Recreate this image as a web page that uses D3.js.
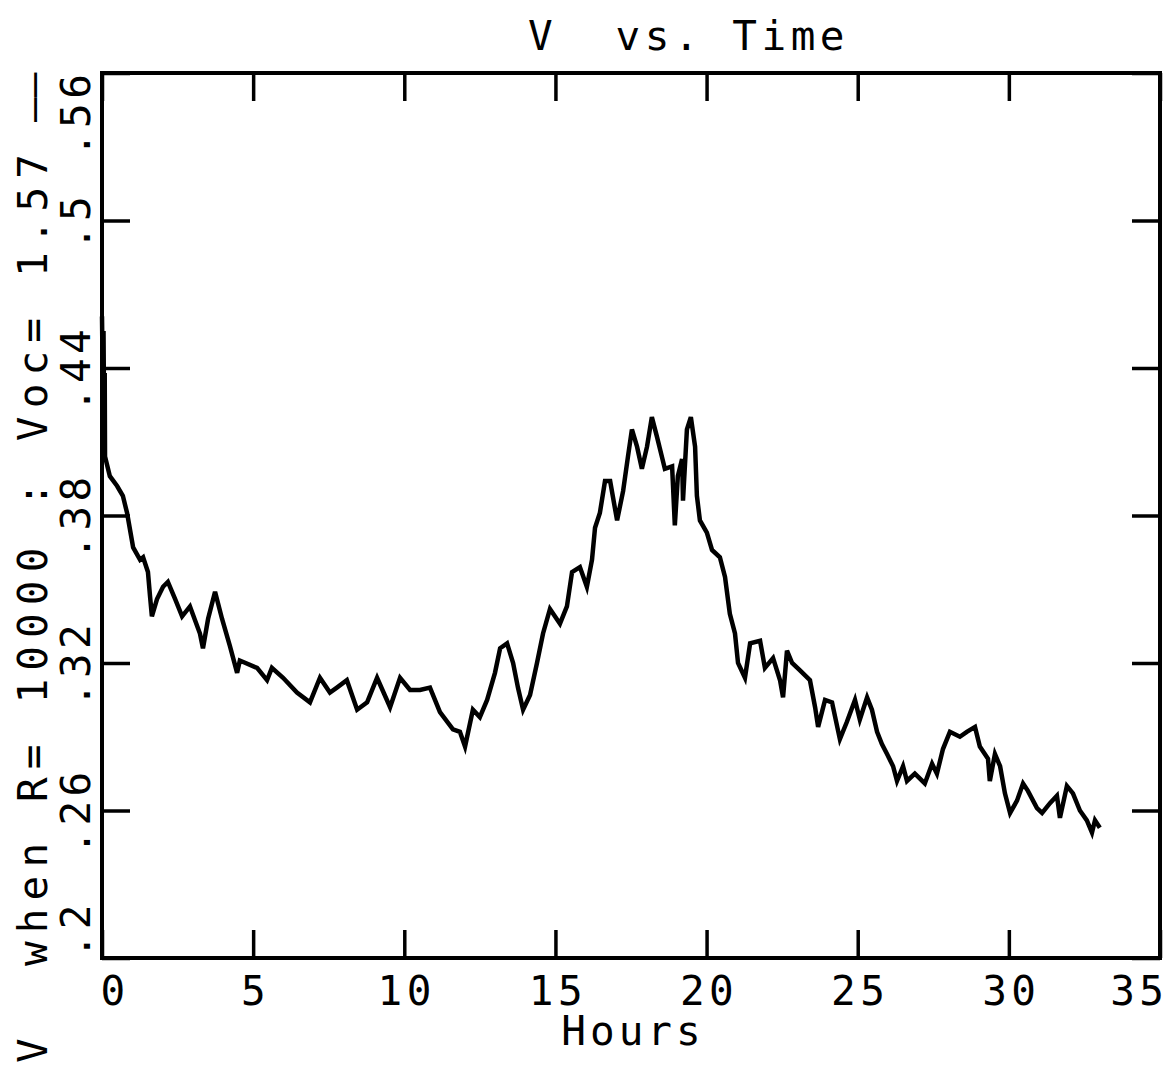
<!DOCTYPE html>
<html>
<head>
<meta charset="utf-8">
<script src="https://cdn.jsdelivr.net/npm/d3@7"></script>
<style>
  html, body { margin: 0; padding: 0; background: #fff; }
  svg { display: block; }
  text { font-family: "DejaVu Sans Mono", "Liberation Mono", monospace; fill: #000; }
</style>
</head>
<body>
<div id="chart"></div>
<script>
// values
const hours = [0.00, 0.03, 0.05, 0.07, 0.09, 0.10, 0.26, 0.50, 0.69, 0.83,
  1.03, 1.26, 1.36, 1.52, 1.59, 1.65, 1.82, 2.02, 2.18, 2.42,
  2.65, 2.91, 3.24, 3.34, 3.51, 3.74, 3.97, 4.23, 4.47, 4.56,
  5.13, 5.46, 5.62, 5.99, 6.45, 6.88, 7.21, 7.54, 7.77, 8.10,
  8.44, 8.77, 9.10, 9.53, 9.86, 10.19, 10.52, 10.85, 11.18, 11.61,
  11.84, 12.01, 12.27, 12.50, 12.74, 13.00, 13.17, 13.40, 13.60, 13.76,
  13.93, 14.16, 14.39, 14.59, 14.82, 15.15, 15.38, 15.55, 15.81, 16.04,
  16.21, 16.31, 16.47, 16.64, 16.81, 17.04, 17.24, 17.40, 17.53, 17.70,
  17.86, 18.03, 18.19, 18.36, 18.52, 18.62, 18.86, 18.95, 19.05, 19.19,
  19.22, 19.35, 19.48, 19.62, 19.68, 19.78, 20.01, 20.18, 20.44, 20.61,
  20.77, 20.94, 21.04, 21.27, 21.44, 21.77, 21.93, 22.20, 22.43, 22.53,
  22.66, 22.83, 23.09, 23.42, 23.59, 23.69, 23.92, 24.15, 24.41, 24.64,
  24.91, 25.07, 25.31, 25.47, 25.64, 25.80, 25.97, 26.17, 26.30, 26.50,
  26.63, 26.89, 27.22, 27.46, 27.62, 27.82, 28.05, 28.38, 28.61, 28.88,
  29.04, 29.31, 29.37, 29.54, 29.71, 29.87, 30.04, 30.27, 30.47, 30.63,
  30.93, 31.10, 31.36, 31.59, 31.69, 31.92, 32.12, 32.35, 32.58, 32.75,
  32.85, 33.01];
const volts = [0.461, 0.430, 0.455, 0.420, 0.438, 0.404, 0.396, 0.392, 0.388, 0.381,
  0.367, 0.362, 0.363, 0.357, 0.347, 0.339, 0.346, 0.351, 0.353, 0.346,
  0.339, 0.343, 0.332, 0.326, 0.338, 0.349, 0.338, 0.327, 0.316, 0.321,
  0.318, 0.313, 0.318, 0.314, 0.308, 0.304, 0.314, 0.308, 0.310, 0.313,
  0.301, 0.304, 0.314, 0.302, 0.314, 0.309, 0.309, 0.310, 0.300, 0.293,
  0.292, 0.286, 0.301, 0.298, 0.305, 0.316, 0.326, 0.328, 0.320, 0.310,
  0.301, 0.307, 0.320, 0.332, 0.342, 0.336, 0.343, 0.357, 0.359, 0.351,
  0.362, 0.375, 0.381, 0.394, 0.394, 0.378, 0.390, 0.404, 0.415, 0.408,
  0.399, 0.408, 0.420, 0.412, 0.404, 0.399, 0.400, 0.376, 0.396, 0.403,
  0.386, 0.415, 0.420, 0.408, 0.388, 0.378, 0.373, 0.366, 0.363, 0.355,
  0.340, 0.332, 0.320, 0.314, 0.328, 0.329, 0.318, 0.322, 0.313, 0.306,
  0.325, 0.320, 0.317, 0.313, 0.302, 0.294, 0.305, 0.304, 0.289, 0.296,
  0.305, 0.297, 0.306, 0.301, 0.292, 0.287, 0.283, 0.278, 0.272, 0.278,
  0.272, 0.275, 0.271, 0.279, 0.275, 0.285, 0.292, 0.290, 0.292, 0.294,
  0.286, 0.281, 0.272, 0.283, 0.278, 0.267, 0.259, 0.264, 0.271, 0.268,
  0.261, 0.259, 0.263, 0.266, 0.257, 0.270, 0.267, 0.260, 0.256, 0.251,
  0.256, 0.253];

const xTicks = [0, 5, 10, 15, 20, 25, 30, 35];
const xTickLabels = ["0", "5", "10", "15", "20", "25", "30", "35"];
const yTicks = [0.2, 0.26, 0.32, 0.38, 0.44, 0.5, 0.56];
const yTickLabels = [".2", ".26", ".32", ".38", ".44", ".5", ".56"];

const title = "V  vs. Time";
const xTitle = "Hours";
const yTitle = "when R= 10000 : Voc= 1.57";
const yUnit = "V";

const W = 1172, H = 1071;
const margin = { top: 73, right: 12, bottom: 113, left: 102 };
const width = W - margin.left - margin.right;
const height = H - margin.top - margin.bottom;
const fontSize = 41;
const tickLen = 28;

const svg = d3.select("#chart").append("svg")
    .attr("width", W)
    .attr("height", H);

svg.append("rect").attr("width", W).attr("height", H).attr("fill", "#fff");

const g = svg.append("g")
    .attr("transform", `translate(${margin.left},${margin.top})`);

const x = d3.scaleLinear().domain([0, 35]).range([0, width]);
const y = d3.scaleLinear().domain([0.2, 0.56]).range([height, 0]);

function styleAxis(sel) {
    sel.select(".domain").remove();
    sel.selectAll(".tick line").attr("stroke", "#000").attr("stroke-width", 3.5);
    sel.selectAll(".tick text")
        .style("font-family", '"DejaVu Sans Mono", monospace')
        .style("font-size", fontSize + "px")
        .style("letter-spacing", "4.5px")
        .attr("fill", "#000");
}

// bottom axis with labels
const xAxis = g.append("g")
    .attr("transform", `translate(0,${height})`)
    .call(d3.axisBottom(x).tickValues(xTicks).tickSizeInner(-tickLen).tickSizeOuter(0)
        .tickFormat((d, i) => xTickLabels[i]))
    .call(styleAxis);

xAxis.selectAll(".tick text")
    .attr("y", 47)
    .attr("dy", null)
    .attr("text-anchor", "middle")
    .each(function (d) {
        const L = this.getComputedTextLength();
        const c = x(d);
        let shift = 0;
        if (c - L / 2 < -4) shift = -4 - (c - L / 2);
        if (c + L / 2 > width + 6) shift = width + 6 - (c + L / 2);
        d3.select(this).attr("x", shift + 2);
    });

// top axis, ticks only
g.append("g")
    .call(d3.axisTop(x).tickValues(xTicks).tickSizeInner(-tickLen).tickSizeOuter(0).tickFormat(""))
    .call(styleAxis);

// left axis with rotated labels
const yAxis = g.append("g")
    .call(d3.axisLeft(y).tickValues(yTicks).tickSizeInner(-tickLen).tickSizeOuter(0)
        .tickFormat((d, i) => yTickLabels[i]))
    .call(styleAxis);

yAxis.selectAll(".tick text")
    .attr("x", null)
    .attr("dy", null)
    .attr("text-anchor", "middle")
    .each(function (d) {
        const L = this.getComputedTextLength();
        const c = y(d);
        let shift = 0;
        if (c - L / 2 < -4) shift = -4 - (c - L / 2);
        if (c + L / 2 > height) shift = height - (c + L / 2);
        d3.select(this).attr("transform", `translate(-12,${shift}) rotate(-90)`);
    });

// right axis, ticks only
g.append("g")
    .attr("transform", `translate(${width},0)`)
    .call(d3.axisRight(y).tickValues(yTicks).tickSizeInner(-tickLen).tickSizeOuter(0).tickFormat(""))
    .call(styleAxis);

// frame
g.append("rect")
    .attr("width", width)
    .attr("height", height)
    .attr("fill", "none")
    .attr("stroke", "#000")
    .attr("stroke-width", 4);

// data line
const data = hours.map((h, i) => ({ h: h, v: volts[i] }));
const line = d3.line()
    .x(d => x(d.h))
    .y(d => y(d.v));

g.append("path")
    .datum(data)
    .attr("d", line)
    .attr("fill", "none")
    .attr("stroke", "#000")
    .attr("stroke-width", 4.5)
    .attr("stroke-linejoin", "miter");

// title
svg.append("text")
    .attr("x", 528)
    .attr("y", 50)
    .style("font-size", fontSize + "px")
    .style("letter-spacing", "4.5px")
    .style("white-space", "pre")
    .text(title);

// x title
svg.append("text")
    .attr("x", margin.left + width / 2 + 2)
    .attr("y", 1045)
    .attr("text-anchor", "middle")
    .style("font-size", fontSize + "px")
    .style("letter-spacing", "4px")
    .text(xTitle);

// y title, rotated, reading upward
svg.append("text")
    .attr("transform", "translate(47,966) rotate(-90)")
    .attr("textLength", 812)
    .attr("lengthAdjust", "spacing")
    .style("font-size", fontSize + "px")
    .style("white-space", "pre")
    .text(yTitle);

svg.append("text")
    .attr("transform", "translate(47,122) rotate(-90)")
    .style("font-size", fontSize + "px")
    .text("\u2014\u2014");

// unit under the y title
svg.append("text")
    .attr("transform", "translate(47,1063) rotate(-90)")
    .style("font-size", fontSize + "px")
    .text(yUnit);
</script>
</body>
</html>
